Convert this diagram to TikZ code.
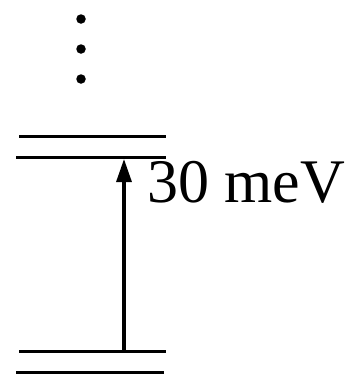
\documentclass[tikz,border=0pt]{standalone}
\usepackage{fontspec}
\setmainfont{Liberation Serif}
\usetikzlibrary{arrows.meta}
\begin{document}
\begin{tikzpicture}[x=1pt,y=-1pt,
  level/.style={line width=2.5pt},
  dotmark/.style={circle,fill=black,inner sep=0pt,minimum size=9.5pt}]
\useasboundingbox (0,0) rectangle (350,375);
\node[dotmark] (d1) at (81,19) {};
\node[dotmark] (d2) at (81,49) {};
\node[dotmark] (d3) at (81,79) {};
\coordinate (a1) at (19,136.5); \coordinate (a2) at (166,136.5);
\coordinate (b1) at (16,157.5); \coordinate (b2) at (166,157.5);
\coordinate (c1) at (19,351.7); \coordinate (c2) at (166,351.7);
\coordinate (e1) at (16,372.7); \coordinate (e2) at (164,372.7);
\draw[level] (a1) -- (a2);
\draw[level] (b1) -- (b2);
\draw[level] (c1) -- (c2);
\draw[level] (e1) -- (e2);
\coordinate (s) at (124,351.7);
\coordinate (t) at (124,159);
\draw[line width=3.2pt,-{Triangle[length=23pt,width=15pt]}] (s) -- (t);
\node[anchor=base west,inner sep=0pt,font=\fontsize{62}{68}\selectfont] (lbl) at (147,202) {30 meV};
\end{tikzpicture}
\end{document}
